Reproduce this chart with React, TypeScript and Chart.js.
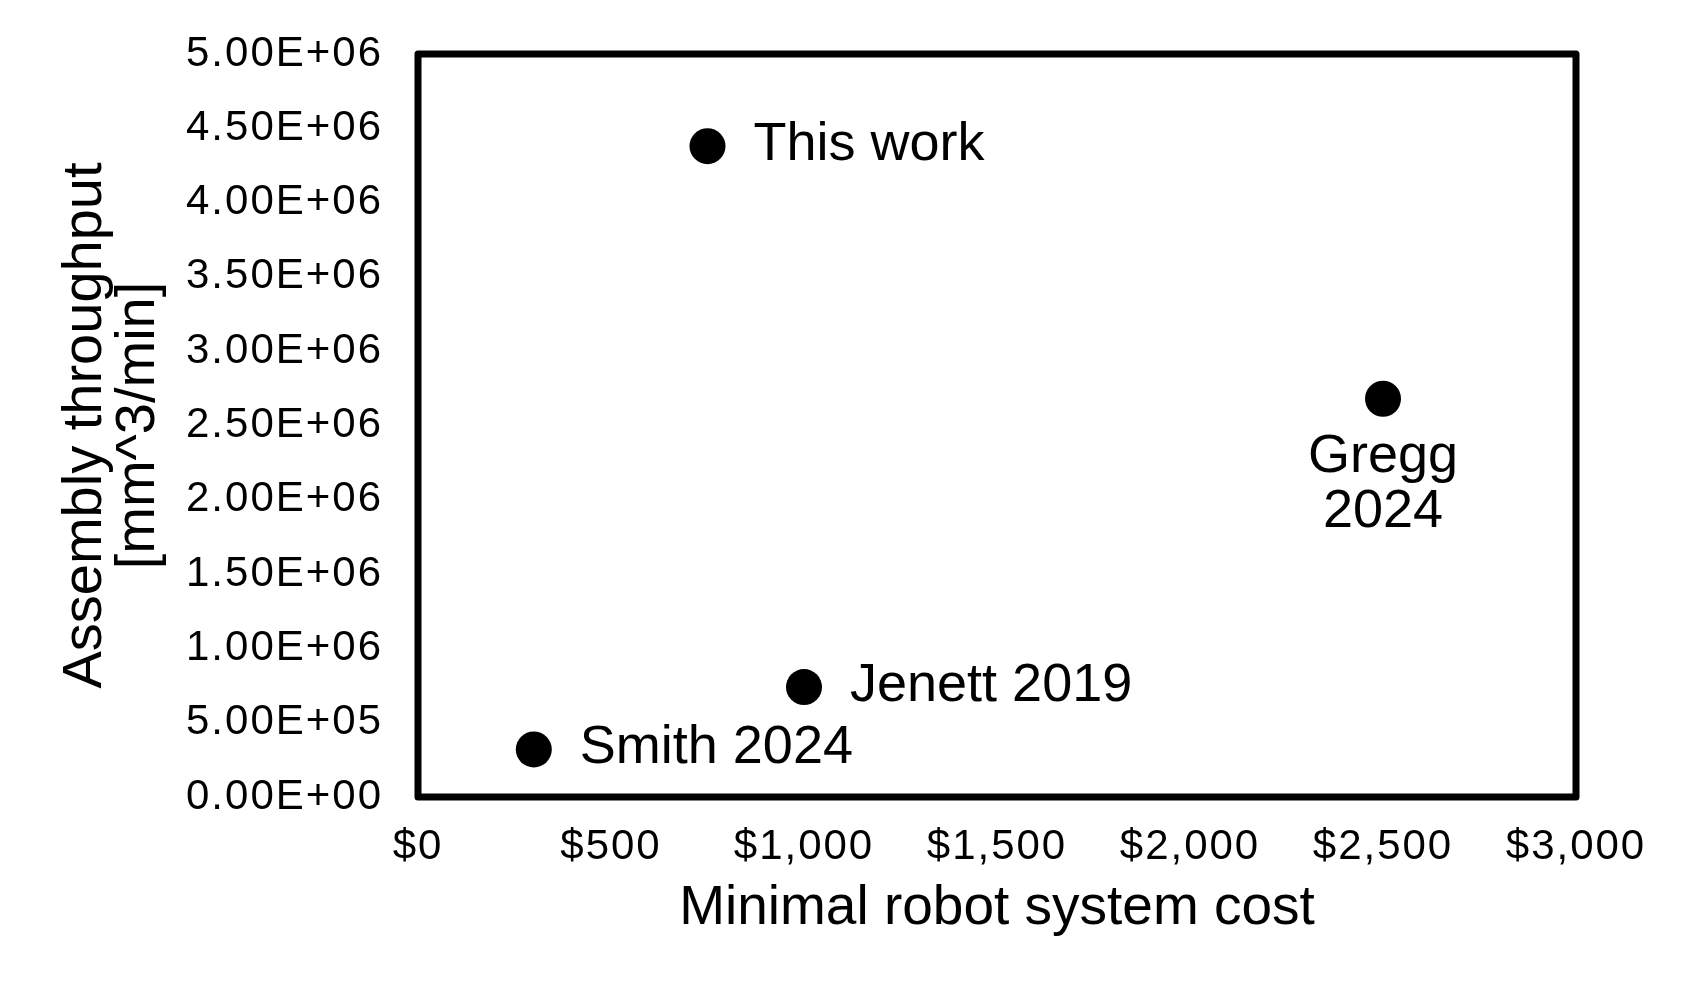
import React, { useEffect, useRef } from "react";
import { Chart, registerables } from "chart.js";

Chart.register(...registerables);

// ---- data ----
const names: string[] = ["This work", "Jenett 2019", "Smith 2024", "Gregg 2024"];
const costs: number[] = [750, 1000, 300, 2500];
const throughputs: number[] = [4.38e6, 7.4e5, 3.2e5, 2.68e6];
const labelSides: string[] = ["right", "right", "right", "below"];

const xTickMin = 0;
const xTickMax = 3000;
const xTickStep = 500;
const yTickMin = 0;
const yTickMax = 5e6;
const yTickStep = 5e5;

const xTitle = "Minimal robot system cost";
const yTitle = ["Assembly throughput", "[mm^3/min]"];

const FONT = "'Liberation Sans', Arial, Helvetica, sans-serif";
const TICK_SPACING = "2px";

function sci(v: number): string {
  const [m, e] = Number(v).toExponential(2).split("e");
  const n = parseInt(e, 10);
  return `${m}E${n < 0 ? "-" : "+"}${String(Math.abs(n)).padStart(2, "0")}`;
}

function spaceLabels(s: any) {
  if (s.__spaced) return;
  const orig = s.drawLabels;
  s.drawLabels = function (area: any) {
    const c = this.ctx;
    c.save();
    c.letterSpacing = TICK_SPACING;
    orig.call(this, area);
    c.restore();
  };
  s.__spaced = true;
}

const framePlugin = {
  id: "frame",
  beforeDatasetsDraw(chart: any) {
    const { ctx, chartArea: a } = chart;
    ctx.save();
    ctx.strokeStyle = "#000";
    ctx.lineWidth = 7;
    ctx.lineJoin = "round";
    ctx.strokeRect(a.left, a.top, a.right - a.left, a.bottom - a.top);
    ctx.restore();
  },
};

const labelPlugin = {
  id: "pointLabels",
  afterDatasetsDraw(chart: any, _args: any, opts: any) {
    const { ctx } = chart;
    const meta = chart.getDatasetMeta(0);
    ctx.save();
    ctx.fillStyle = "#000";
    ctx.font = `${opts.size}px ${FONT}`;
    ctx.textBaseline = "alphabetic";
    meta.data.forEach((pt: any, i: number) => {
      const side = labelSides[i];
      if (side === "below") {
        ctx.textAlign = "center";
        const lines = names[i].split(" ");
        lines.forEach((ln: string, k: number) => {
          ctx.fillText(ln, pt.x, pt.y + opts.belowFirst + k * opts.lineGap);
        });
      } else {
        ctx.textAlign = "left";
        ctx.fillText(names[i], pt.x + opts.rightGap, pt.y + opts.rightBase);
      }
    });
    ctx.restore();
  },
};

export default function App() {
  const ref = useRef<HTMLCanvasElement | null>(null);

  useEffect(() => {
    document.body.style.margin = "0";
    if (!ref.current) return;
    const chart = new Chart(ref.current, {
      type: "scatter",
      data: {
        datasets: [
          {
            data: costs.map((c, i) => ({ x: c, y: throughputs[i] })),
            backgroundColor: "#000",
            borderColor: "#000",
            borderWidth: 0,
            pointRadius: 18,
            pointHoverRadius: 18,
          },
        ],
      },
      options: {
        responsive: false,
        animation: false,
        events: [],
        layout: { padding: { top: 54, right: 129, bottom: 0, left: 0 } },
        plugins: {
          legend: { display: false },
          tooltip: { enabled: false },
          pointLabels: { size: 54, rightGap: 46, rightBase: 14, belowFirst: 73, lineGap: 55 },
        } as any,
        scales: {
          x: {
            type: "linear",
            min: xTickMin,
            max: xTickMax,
            grid: { display: false, drawTicks: true, tickLength: 25, tickColor: "rgba(0,0,0,0)" },
            border: { display: false },
            ticks: {
              stepSize: xTickStep,
              color: "#000",
              padding: 0,
              maxRotation: 0,
              font: { family: FONT, size: 42 },
              callback: (v: any) => "$" + Number(v).toLocaleString("en-US"),
            },
            title: {
              display: true,
              text: xTitle,
              color: "#000",
              font: { family: FONT, size: 55, lineHeight: 1.0 },
              padding: { top: 0, bottom: 67 },
            },
            afterFit: (s: any) => {
              s.height = 206;
              spaceLabels(s);
            },
          },
          y: {
            type: "linear",
            min: yTickMin,
            max: yTickMax,
            grid: { display: false, drawTicks: true, tickLength: 35, tickColor: "rgba(0,0,0,0)" },
            border: { display: false },
            ticks: {
              stepSize: yTickStep,
              color: "#000",
              padding: 0,
              font: { family: FONT, size: 42 },
              callback: (v: any) => sci(Number(v)),
            },
            title: {
              display: true,
              text: yTitle,
              color: "#000",
              font: { family: FONT, size: 56, lineHeight: 0.95 },
              padding: { top: 59, bottom: 0 },
            },
            afterFit: (s: any) => {
              s.width = 418;
              spaceLabels(s);
            },
          },
        },
      },
      plugins: [framePlugin, labelPlugin],
    });
    return () => chart.destroy();
  }, []);

  return (
    <div style={{ width: 1705, height: 1003, background: "#fff" }}>
      <canvas ref={ref} width={1705} height={1003} style={{ display: "block" }} />
    </div>
  );
}
